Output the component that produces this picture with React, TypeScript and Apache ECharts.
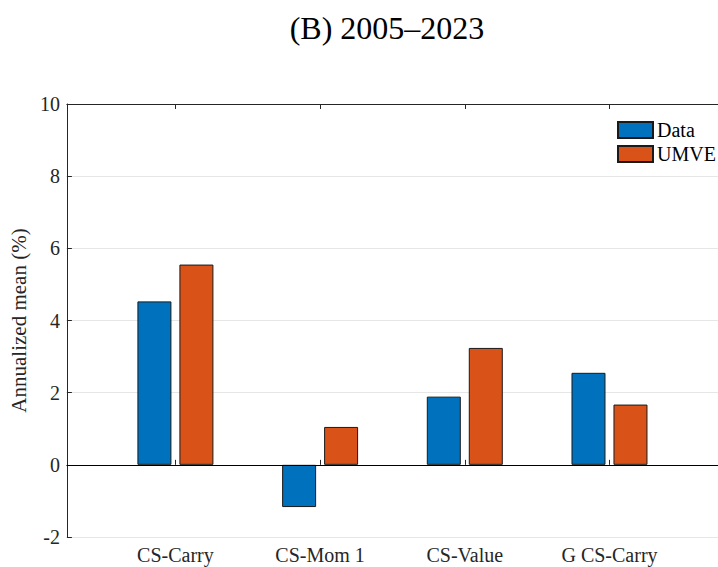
import React, { useEffect, useRef } from "react";
import * as echarts from "echarts";

const categories = ["CS-Carry", "CS-Mom 1", "CS-Value", "G CS-Carry"];
const categoryPositions = [1, 2, 3, 4];
const dataValues = [4.53, -1.17, 1.89, 2.55];
const umveValues = [5.55, 1.05, 3.24, 1.67];
const yTicks = [-2, 0, 2, 4, 6, 8, 10];

const FONT = "'Liberation Serif', 'Times New Roman', serif";
const AXIS = "#262626";

export default function App() {
  const ref = useRef<HTMLDivElement>(null);
  useEffect(() => {
    if (!ref.current) return;
    const chart = echarts.init(ref.current, undefined, { renderer: "svg" });
    const toPairs = (vals: number[]) => vals.map((v, i) => [categoryPositions[i], v]);
    chart.setOption({
      animation: false,
      backgroundColor: "#ffffff",
      textStyle: { fontFamily: FONT },
      title: {
        text: "(B) 2005–2023",
        left: 382,
        textAlign: "center",
        top: 7,
        textStyle: { fontFamily: FONT, fontSize: 32, fontWeight: "normal", color: "#000" },
      },
      legend: {
        orient: "vertical",
        left: 612,
        top: 115,
        itemWidth: 35,
        itemHeight: 16,
        itemGap: 4,
        icon: "rect",
        textStyle: { fontFamily: FONT, fontSize: 20, color: "#000", padding: [0, 0, 0, -1] },
        data: ["Data", "UMVE"],
      },
      grid: { left: 66, right: -9.5, top: 104, bottom: 30, containLabel: false },
      xAxis: [
        {
          type: "value",
          min: 0.25,
          max: 4.75,
          position: "bottom",
          axisLine: { show: true, lineStyle: { color: AXIS, width: 1 } },
          axisTick: { show: true, inside: true, length: 5, customValues: categoryPositions, lineStyle: { color: AXIS } },
          axisLabel: {
            show: true,
            customValues: categoryPositions,
            formatter: (v: number) => categories[Math.round(v) - 1] ?? "",
            fontFamily: FONT,
            fontSize: 20,
            color: "#262626",
            margin: 8,
          },
          splitLine: { show: false },
        },
        {
          type: "value",
          min: 0.25,
          max: 4.75,
          position: "top",
          axisLine: { show: true, lineStyle: { color: AXIS, width: 1 } },
          axisTick: { show: true, inside: true, length: 5, customValues: categoryPositions, lineStyle: { color: AXIS } },
          axisLabel: { show: false },
          splitLine: { show: false },
        },
      ],
      yAxis: {
        type: "value",
        min: yTicks[0],
        max: yTicks[yTicks.length - 1],
        interval: 2,
        name: "Annualized mean (%)",
        nameLocation: "middle",
        nameGap: 33,
        nameTextStyle: { fontFamily: FONT, fontSize: 21, color: "#262626" },
        axisLine: { show: true, lineStyle: { color: AXIS, width: 1 } },
        axisTick: { show: true, inside: true, length: 5, lineStyle: { color: AXIS } },
        axisLabel: { fontFamily: FONT, fontSize: 20, color: "#262626", margin: 7 },
        splitLine: { show: true, lineStyle: { color: "#e6e6e6", width: 1 } },
      },
      series: [
        {
          name: "Data",
          type: "bar",
          data: toPairs(dataValues),
          barWidth: 34,
          barGap: "23.5%",
          itemStyle: { color: "#0072BD", borderColor: "#1a1a1a", borderWidth: 1 },
          markLine: {
            silent: true,
            symbol: "none",
            label: { show: false },
            lineStyle: { color: "#000", type: "solid", width: 1 },
            data: [{ yAxis: 0 }],
          },
        },
        {
          name: "UMVE",
          type: "bar",
          data: toPairs(umveValues),
          barWidth: 34,
          barGap: "23.5%",
          itemStyle: { color: "#D95319", borderColor: "#1a1a1a", borderWidth: 1 },
        },
      ],
    });
    return () => chart.dispose();
  }, []);
  return (
    <div
      ref={ref}
      style={{ position: "fixed", left: 0, top: 0, width: 718, height: 567, background: "#fff" }}
    />
  );
}
